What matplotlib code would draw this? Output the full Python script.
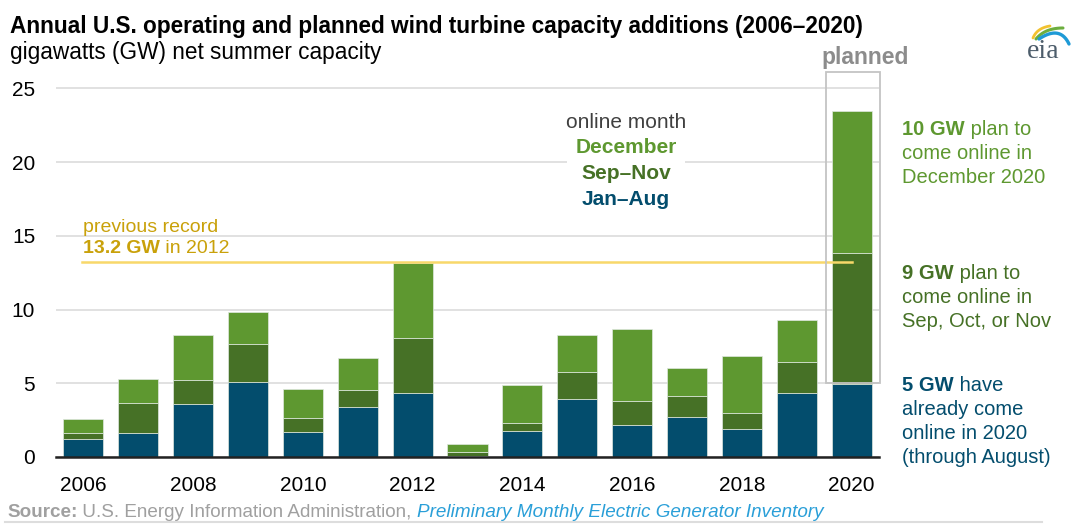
import matplotlib.pyplot as plt
import numpy as np
from matplotlib.patches import Rectangle

plt.rcParams['font.family'] = ['Liberation Sans', 'DejaVu Sans']

years = list(range(2006, 2021))
jan_aug = [1.24, 1.63, 3.62, 5.09, 1.70, 3.39, 4.34, 0.07, 1.76, 3.96, 2.17, 2.69, 1.88, 4.34, 4.98]
sep_nov = [0.39, 2.06, 1.61, 2.56, 0.95, 1.18, 3.74, 0.27, 0.55, 1.81, 1.63, 1.45, 1.13, 2.09, 8.84]
december = [0.97, 1.58, 3.03, 2.15, 1.94, 2.13, 5.09, 0.52, 2.60, 2.47, 4.91, 1.92, 3.85, 2.89, 9.64]
tick_years = [2006, 2008, 2010, 2012, 2014, 2016, 2018, 2020]
record = 13.2

c_blue = '#034d6d'
c_dark = '#467126'
c_light = '#5e9830'
c_gold = '#c9a10a'

W, H = 1080, 529
fig = plt.figure(figsize=(10.8, 5.29), dpi=100)
ax = fig.add_axes([56 / W, 1 - 457 / H, 823 / W, (457 - 73.6) / H])

x = np.arange(len(years))
b1 = np.array(jan_aug)
b2 = b1 + np.array(sep_nov)
ax.bar(x, jan_aug, width=0.73, color=c_blue, edgecolor='#dfe8e0', linewidth=0.5, zorder=3)
ax.bar(x, sep_nov, bottom=b1, width=0.73, color=c_dark, edgecolor='#dfe8e0', linewidth=0.5, zorder=3)
ax.bar(x, december, bottom=b2, width=0.73, color=c_light, edgecolor='#dfe8e0', linewidth=0.5, zorder=3)

ax.set_xlim(-0.5, 14.5)
ax.set_ylim(0, 26)
ax.set_yticks([0, 5, 10, 15, 20, 25])
ax.set_xticks([years.index(y) for y in tick_years])
ax.set_xticklabels([str(y) for y in tick_years])
ax.tick_params(axis='both', length=0, labelsize=15, colors='black')
ax.tick_params(axis='y', pad=15)
ax.tick_params(axis='x', pad=14)
ax.grid(axis='y', color='#dcdcdc', linewidth=1.2, zorder=0)
for s in ['top', 'right', 'left']:
    ax.spines[s].set_visible(False)
ax.spines['bottom'].set_color('#222222')
ax.spines['bottom'].set_linewidth(1.8)
ax.spines['bottom'].set_zorder(4)

# previous record line
ax.plot([-0.03, 14.0], [record, record], color='#f8d86a', linewidth=1.8, zorder=5, clip_on=False)
fig.text(83 / W, 1 - 232 / H, 'previous record', color=c_gold, fontsize=14, va='baseline')
t = fig.text(83 / W, 1 - 253 / H, '13.2 GW', color=c_gold, fontsize=14, fontweight='bold', va='baseline')
fig.canvas.draw()
fig.text(t.get_window_extent().x1 / W, 1 - 253 / H, ' in 2012', color=c_gold, fontsize=14, va='baseline')

# planned box
ax.add_patch(Rectangle((13.53, 5.0), 0.99, 21.1, fill=False, edgecolor='#c4c4c4',
                       linewidth=1.3, zorder=6, clip_on=False))

# legend block
lx = 626 / W
fig.text(lx, 1 - 128 / H, 'online month', ha='center', va='baseline', fontsize=15, color='#404040',
         bbox=dict(facecolor='white', edgecolor='none', pad=2))
fig.text(lx, 1 - 153 / H, 'December', ha='center', va='baseline', fontsize=15, fontweight='bold',
         color=c_light, bbox=dict(facecolor='white', edgecolor='none', pad=6))
fig.text(lx, 1 - 179 / H, 'Sep\u2013Nov', ha='center', va='baseline', fontsize=15, fontweight='bold',
         color=c_dark)
fig.text(lx, 1 - 205 / H, 'Jan\u2013Aug', ha='center', va='baseline', fontsize=15, fontweight='bold',
         color=c_blue)

# right annotations
rx = 902 / W


def note(y0, bold, rest, lines, color):
    t = fig.text(rx, 1 - y0 / H, bold, fontsize=14.5, fontweight='bold', color=color, va='baseline')
    fig.canvas.draw()
    bb = t.get_window_extent()
    fig.text(bb.x1 / W, 1 - y0 / H, ' ' + rest, fontsize=14.5, color=color, va='baseline')
    for i, ln in enumerate(lines):
        fig.text(rx, 1 - (y0 + 24 * (i + 1)) / H, ln, fontsize=14.5, color=color, va='baseline')


note(135, '10 GW', 'plan to', ['come online in', 'December 2020'], c_light)
note(279, '9 GW', 'plan to', ['come online in', 'Sep, Oct, or Nov'], c_dark)
note(391, '5 GW', 'have', ['already come', 'online in 2020', '(through August)'], c_blue)

# titles
fig.text(10 / W, 1 - 33 / H, 'Annual U.S. operating and planned wind turbine capacity additions (2006\u20132020)',
         fontsize=16.3, fontweight='bold', va='baseline', color='black')
fig.text(10 / W, 1 - 59 / H, 'gigawatts (GW) net summer capacity', fontsize=16.3, va='baseline',
         color='black')
fig.text(865 / W, 1 - 64 / H, 'planned', ha='center', va='baseline', fontsize=16.5, fontweight='bold',
         color='#8c8c8c')

# source
st = fig.text(7 / W, 1 - 517 / H, 'Source:', fontsize=13.6, fontweight='bold', color='#a0a0a0',
              va='baseline')
fig.canvas.draw()
st2 = fig.text(st.get_window_extent().x1 / W, 1 - 517 / H, ' U.S. Energy Information Administration, ',
               fontsize=13.6, color='#a0a0a0', va='baseline')
fig.canvas.draw()
fig.text(st2.get_window_extent().x1 / W, 1 - 517 / H, 'Preliminary Monthly Electric Generator Inventory',
         fontsize=13.6, color='#2a9fd8', style='italic', va='baseline')
fig.add_artist(plt.Line2D([5 / W, 1042 / W], [1 - 522 / H, 1 - 522 / H], color='#dddddd',
                          linewidth=1.5))

# eia logo (pixel coordinates in a small overlay axes)
lax = fig.add_axes([1000 / W, 1 - 70 / H, 80 / W, 60 / H])
lax.set_xlim(1000, 1080)
lax.set_ylim(70, 10)
lax.axis('off')


def swoosh(p0, p1, p2, color, lw):
    s = np.linspace(0, 1, 40)[:, None]
    pts = (1 - s) ** 2 * np.array(p0) + 2 * (1 - s) * s * np.array(p1) + s ** 2 * np.array(p2)
    lax.plot(pts[:, 0], pts[:, 1], color=color, linewidth=lw, solid_capstyle='round')


swoosh((1033, 38), (1037, 28), (1050, 26), '#f2c230', 2.0)
swoosh((1036, 39), (1045, 28), (1063, 28), '#6cae3e', 2.2)
swoosh((1039, 39), (1060, 25), (1069, 44), '#1e9ad6', 2.4)
lax.text(1043, 58, 'eia', fontsize=20, family='Liberation Serif', color='#4d5d6b', ha='center',
         va='baseline')

fig.savefig('out.png', dpi=100)
